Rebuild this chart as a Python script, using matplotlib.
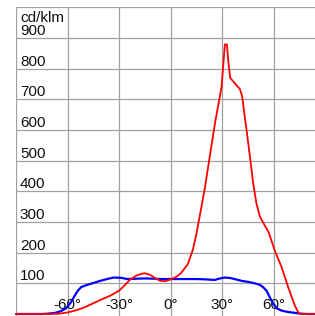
import matplotlib
matplotlib.use("Agg")
import matplotlib.pyplot as plt

# angles (degrees) and intensities (cd/klm)
red_angles = [-90, -80, -70, -65, -60, -55, -50, -45, -40, -35, -30, -27, -24, -20, -17, -15,
              -12, -9, -6, -3, 0, 3, 6, 10, 13, 15, 18, 20, 23, 26, 28.7, 29.7, 31.2, 31.6,
              32.8, 33.5, 34.7, 37, 40.4, 41.7, 44, 46.2, 48, 50, 52, 54.5, 57, 60.8, 64.7, 68.5,
              72.4, 74.3, 75.5, 80, 85]
red_values = [0, 0, 0, 1, 5, 12, 22, 35, 48, 60, 76, 92, 110, 125, 131, 133,
              128, 117, 108, 107, 113, 120, 133, 162, 210, 260, 350, 412, 520, 627, 709, 741, 850, 879,
              879, 830, 770, 755, 733, 709, 610, 514, 430, 360, 318, 292, 268, 205, 152, 87,
              27, 6, 0, 0, 0]

blue_angles = [-90, -80, -75, -72, -70, -67, -64, -61, -58, -56, -54, -52, -48, -45, -41, -37,
               -33, -29, -25, -20, -15, -10, -5, 0, 5, 10, 15, 20, 25.8, 28, 31.6, 35, 38,
               41.3, 45, 49, 52, 54, 56, 57.8, 60, 62, 64.7, 68, 72, 76, 80, 85]
blue_values = [0, 0, 0, 1, 2, 4, 9, 18, 38, 58, 76, 88, 96, 101, 108, 114,
               119, 118, 114, 115, 116, 115, 114, 114, 114, 114, 114, 113, 111, 115, 119, 117, 113,
               108, 105, 100, 95, 87, 75, 54, 32, 18, 11, 7, 4, 1, 0, 0]

x_ticks = [-60, -30, 0, 30, 60]
x_labels = ["-60°", "-30°", "0°", "30°", "60°"]
y_ticks = [100, 200, 300, 400, 500, 600, 700, 800, 900]
y_labels = ["100", "200", "300", "400", "500", "600", "700", "800", "900"]
unit_label = "cd/klm"

W, H = 315, 316
fig = plt.figure(figsize=(W / 100, H / 100), dpi=100)
ax = fig.add_axes([16 / W, 0, 299 / W, (H - 7.3) / H])
ax.set_xlim(-90, 84.1)
ax.set_ylim(-6.5, 1000)
for s in ax.spines.values():
    s.set_visible(False)
ax.set_xticks([-90, -60, -30, 0, 30, 60])
ax.set_yticks(y_ticks + [1000])
ax.tick_params(length=0, labelbottom=False, labelleft=False)
ax.grid(True, color="#a0a0a0", lw=0.9)
ax.set_axisbelow(True)

ax.plot(blue_angles, blue_values, color="#0000ff", lw=1.6, solid_capstyle="round",
        clip_on=False, zorder=3)
ax.plot(red_angles, red_values, color="#ff0000", lw=1.3, solid_capstyle="round",
        clip_on=False, zorder=4)

font = dict(family=["Liberation Sans", "DejaVu Sans"], fontsize=11, color="#111111")
for v, lab in zip(y_ticks, y_labels):
    ax.text(-87.7, v + 10, lab, ha="left", va="baseline", **font)
ax.text(-87.7, 952, unit_label, ha="left", va="baseline", **font)
for v, lab in zip(x_ticks, x_labels):
    ax.text(v, 15, lab, ha="center", va="baseline", zorder=2, **font)

fig.savefig("out.png", dpi=100)
